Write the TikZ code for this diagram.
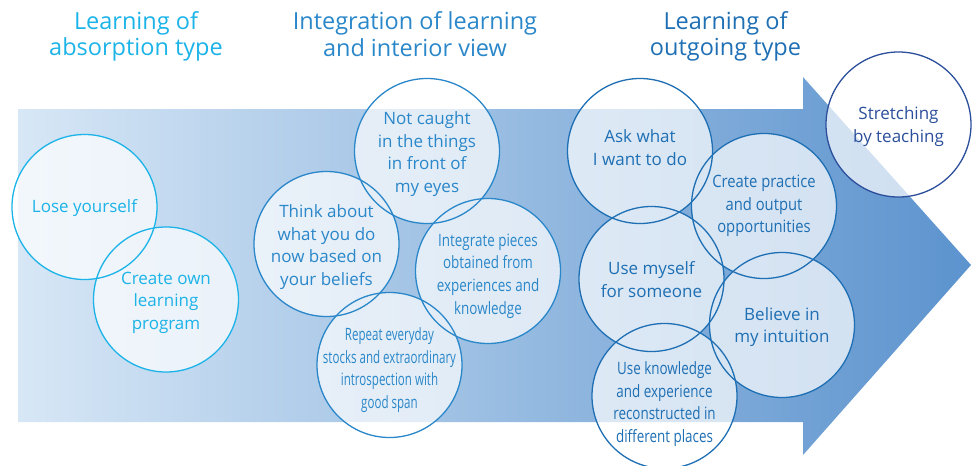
\documentclass[tikz,border=0pt]{standalone}
\usepackage{fontspec}
\setmainfont{Open Sans}
\newfontfamily\semifont[FakeStretch=0.87]{Open Sans}
\newfontfamily\narrowfont[FakeStretch=0.79]{Open Sans}
\newfontfamily\condfont[FakeStretch=0.68]{Open Sans}

\definecolor{arrowlight}{HTML}{D7E7F6}
\definecolor{arrowdark}{HTML}{5C93CE}
\definecolor{cyanline}{HTML}{1CB3E8}
\definecolor{midline}{HTML}{2A87C9}
\definecolor{deepline}{HTML}{1E6FB4}
\definecolor{navyline}{HTML}{2C4F9C}

\tikzset{
  bubble/.style={circle, minimum size=145pt, inner sep=0pt, fill=white},
  ring/.style={line width=1.3pt},
  bubtext/.style={align=center, font=\fontsize{17}{22.6}\selectfont},
  semi/.style={font=\semifont\fontsize{17}{22.6}\selectfont},
  narrow/.style={font=\narrowfont\fontsize{17}{22.6}\selectfont},
  cond/.style={font=\condfont\fontsize{17}{22.6}\selectfont},
  heading/.style={align=center, font=\fontsize{23.5}{26.5}\selectfont},
}

\begin{document}
\begin{tikzpicture}[x=1pt, y=-1pt]
\useasboundingbox (0,0) rectangle (975,466);

% big arrow
\shade[left color=arrowlight, right color=arrowdark]
  (18,109) -- (803,109) -- (803,77) -- (971,265) -- (803,455) -- (803,422) -- (18,422) -- cycle;

% headings
\node[heading, text=cyanline] (absorb) at (136,36.5) {Learning of\\absorption type};
\node[heading, text=midline] (integ) at (415,34) {Integration of learning\\and interior view};
\node[heading, text=deepline] (outgo) at (725.5,36.5) {Learning of\\outgoing type};

% bubble fills
\begin{scope}[transparency group, opacity=0.7]
\node[bubble] (lose) at (84.5,207) {};
\node[bubble] (own) at (166,299.5) {};
\node[bubble] (caught) at (427,151) {};
\node[bubble] (think) at (326.5,244) {};
\node[bubble] (pieces) at (488,271) {};
\node[bubble] (repeat) at (389.5,365) {};
\node[bubble] (ask) at (640,151) {};
\node[bubble] (practice) at (764,206) {};
\node[bubble] (myself) at (651.5,279) {};
\node[bubble] (intuition) at (782,325) {};
\node[bubble] (knowledge) at (664.5,396) {};
\node[bubble] (teaching) at (898.5,124.5) {};
\end{scope}

% bubble outlines
\foreach \n/\c in {lose/cyanline, own/cyanline, caught/midline, think/midline,
    pieces/midline, repeat/midline, ask/deepline, practice/deepline,
    myself/deepline, intuition/deepline, knowledge/deepline, teaching/navyline}
  \draw[ring, \c] (\n.center) circle[radius=72.5pt];

% bubble texts
\node[bubtext, text=cyanline] (losetxt) at ([yshift=-1.5pt]lose) {Lose yourself};
\node[bubtext, text=cyanline] (owntxt) at ([yshift=-3pt]own) {Create own\\learning\\program};
\node[bubtext, text=midline] (caughttxt) at ([yshift=-3pt]caught) {Not caught\\in the things\\in front of\\my eyes};
\node[bubtext, text=midline] (thinktxt) at ([yshift=-3pt]think) {Think about\\what you do\\now based on\\your beliefs};
\node[bubtext, narrow, text=midline] (piecestxt) at ([yshift=-5pt]pieces) {Integrate pieces\\obtained from\\experiences and\\knowledge};
\node[bubtext, cond, text=midline] (repeattxt) at ([yshift=-5pt]repeat) {Repeat everyday\\stocks and extraordinary\\introspection with\\good span};
\node[bubtext, text=deepline] (asktxt) at ([yshift=3.5pt]ask) {Ask what\\I want to do};
\node[bubtext, semi, text=deepline] (practicetxt) at (practice) {Create practice\\and output\\opportunities};
\node[bubtext, text=deepline] (myselftxt) at ([yshift=-0.5pt]myself) {Use myself\\for someone};
\node[bubtext, text=deepline] (intuitiontxt) at ([yshift=-2pt]intuition) {Believe in\\my intuition};
\node[bubtext, narrow, text=deepline] (knowledgetxt) at ([yshift=-8pt]knowledge) {Use knowledge\\and experience\\reconstructed in\\different places};
\node[bubtext, text=navyline] (teachingtxt) at ([yshift=-2pt]teaching) {Stretching\\by teaching};
\end{tikzpicture}
\end{document}
